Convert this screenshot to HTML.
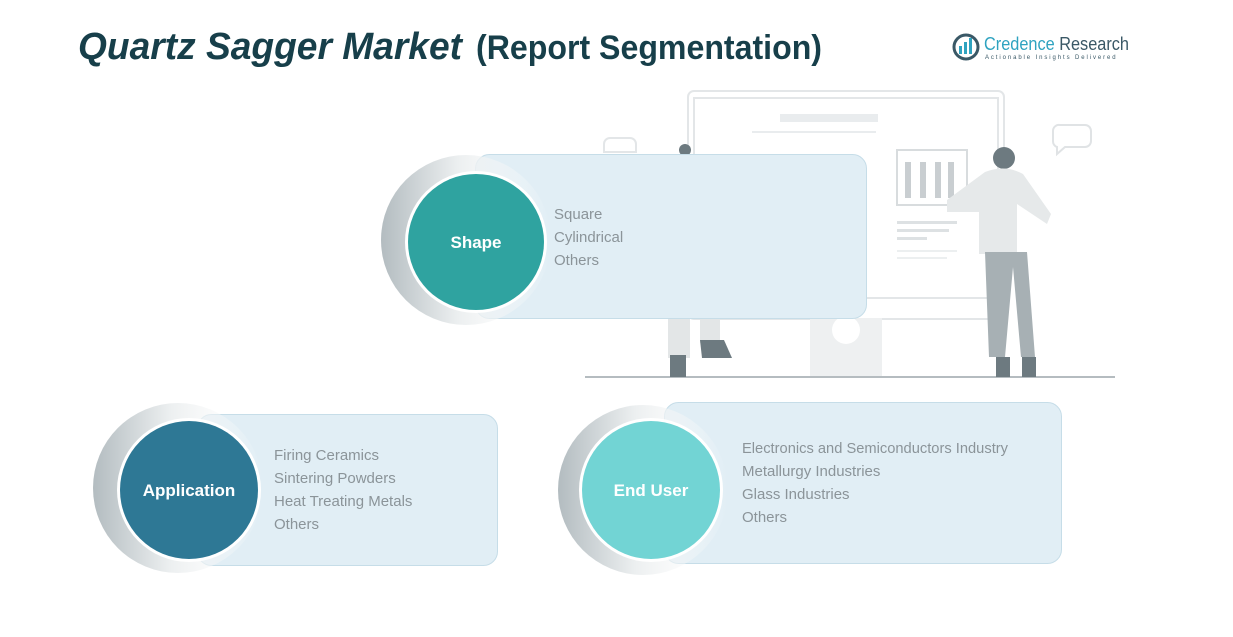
<!DOCTYPE html>
<html><head><meta charset="utf-8"><style>
html,body{margin:0;padding:0;background:#fff;}
svg{display:block;font-family:"Liberation Sans",sans-serif;}
</style></head><body>
<svg width="1233" height="637" viewBox="0 0 1233 637" xmlns="http://www.w3.org/2000/svg">
<defs>
<linearGradient id="ring" x1="0" y1="0" x2="1" y2="0">
<stop offset="0" stop-color="#b3bcc0"/><stop offset="0.45" stop-color="#eceff0"/><stop offset="1" stop-color="#ffffff" stop-opacity="0"/>
</linearGradient>
</defs>
<rect width="1233" height="637" fill="#fff"/>
<text x="78" y="59" font-size="38" font-weight="bold" font-style="italic" fill="#173f4a" textLength="384" lengthAdjust="spacingAndGlyphs">Quartz Sagger Market</text>
<text x="476" y="59" font-size="34" font-weight="bold" fill="#173f4a" textLength="346" lengthAdjust="spacingAndGlyphs">(Report Segmentation)</text>
<circle cx="966" cy="47" r="12" fill="none" stroke="#3a5866" stroke-width="3"/>
<rect x="959" y="46" width="3" height="8" fill="#2fa3c0"/><rect x="964" y="42" width="3" height="12" fill="#2fa3c0"/><rect x="969" y="38" width="3" height="16" fill="#2fa3c0"/>
<text x="984" y="50" font-size="18" fill="#2fa3c0" textLength="145" lengthAdjust="spacingAndGlyphs">Credence <tspan fill="#3a5866">Research</tspan></text>
<text x="985" y="59" font-size="6" fill="#3a5866" letter-spacing="1.9">Actionable Insights Delivered</text>
<g fill="none" stroke="#e3e6e8" stroke-width="2">
<rect x="688" y="91" width="316" height="228" rx="6"/>
<rect x="694" y="98" width="304" height="200"/>
<rect x="897" y="150" width="70" height="55" stroke="#d8dcde"/>
<path d="M1060 125 h25 a6 6 0 0 1 6 6 v10 a6 6 0 0 1 -6 6 h-20 l-8 7 v-7 a6 6 0 0 1 -4 -6 v-10 a6 6 0 0 1 7 -6z" stroke="#e0e3e5"/>
<path d="M610 138 h20 a6 6 0 0 1 6 6 v8 h-32 v-8 a6 6 0 0 1 6 -6z"/>
</g>
<rect x="780" y="114" width="98" height="8" fill="#e9ecee"/>
<rect x="752" y="131" width="124" height="2" fill="#e9ecee"/>
<rect x="905" y="162" width="6" height="36" fill="#c9ced1"/><rect x="920" y="162" width="6" height="36" fill="#c9ced1"/><rect x="935" y="162" width="6" height="36" fill="#c9ced1"/><rect x="948" y="162" width="6" height="36" fill="#c9ced1"/>
<rect x="897" y="221" width="60" height="3" fill="#dde1e3"/><rect x="897" y="229" width="52" height="3" fill="#dde1e3"/><rect x="897" y="237" width="30" height="3" fill="#dde1e3"/>
<rect x="897" y="250" width="60" height="2" fill="#eceff0"/><rect x="897" y="257" width="50" height="2" fill="#eceff0"/>
<rect x="810" y="318" width="72" height="60" fill="#eef0f1"/>
<circle cx="846" cy="330" r="14" fill="#fff"/>
<rect x="585" y="376" width="530" height="2" fill="#b5bcc0"/>
<circle cx="1004" cy="158" r="11" fill="#6d7a80"/>
<path d="M985 172 q20 -8 38 2 l28 40 -4 10 -30 -20 0 50 -38 0 0 -42 -32 0 0 -12z" fill="#e6e9ea"/>
<path d="M985 252 h42 l8 105 h-14 l-8 -90 -8 90 h-16z" fill="#a7b0b4"/>
<rect x="996" y="357" width="14" height="20" fill="#6d7a80"/><rect x="1022" y="357" width="14" height="20" fill="#6d7a80"/>
<rect x="668" y="318" width="22" height="40" fill="#e3e6e7"/><rect x="700" y="318" width="20" height="25" fill="#e3e6e7"/>
<rect x="670" y="355" width="16" height="22" fill="#6d7a80"/><path d="M700 340 l24 0 8 18 -30 0z" fill="#6d7a80"/>
<circle cx="685" cy="150" r="6" fill="#6d7a80"/>

<rect x="475.5" y="154.5" width="391" height="164" rx="14" fill="#e1eef5" stroke="#c6dde8"/>
<circle cx="466" cy="240" r="85" fill="url(#ring)"/>
<circle cx="476" cy="242" r="71" fill="#fff"/>
<circle cx="476" cy="242" r="68" fill="#2fa3a0"/>
<text x="476" y="248" font-size="17" font-weight="bold" fill="#fff" text-anchor="middle">Shape</text>
<g font-size="15" fill="#8b9499">
<text x="554" y="219">Square</text><text x="554" y="242">Cylindrical</text><text x="554" y="265">Others</text>
</g>
<rect x="197.5" y="414.5" width="300" height="151" rx="14" fill="#e1eef5" stroke="#c6dde8"/>
<circle cx="178" cy="488" r="85" fill="url(#ring)"/>
<circle cx="189" cy="490" r="72" fill="#fff"/>
<circle cx="189" cy="490" r="69" fill="#2e7895"/>
<text x="189" y="496" font-size="17" font-weight="bold" fill="#fff" text-anchor="middle">Application</text>
<g font-size="15" fill="#8b9499">
<text x="274" y="460">Firing Ceramics</text><text x="274" y="483">Sintering Powders</text><text x="274" y="506">Heat Treating Metals</text><text x="274" y="529">Others</text>
</g>
<rect x="664.5" y="402.5" width="397" height="161" rx="14" fill="#e1eef5" stroke="#c6dde8"/>
<circle cx="643" cy="490" r="85" fill="url(#ring)"/>
<circle cx="651" cy="490" r="72" fill="#fff"/>
<circle cx="651" cy="490" r="69" fill="#72d4d4"/>
<text x="651" y="496" font-size="17" font-weight="bold" fill="#fff" text-anchor="middle">End User</text>
<g font-size="15" fill="#8b9499">
<text x="742" y="453" textLength="266" lengthAdjust="spacingAndGlyphs">Electronics and Semiconductors Industry</text><text x="742" y="476">Metallurgy Industries</text><text x="742" y="499">Glass Industries</text><text x="742" y="522">Others</text>
</g>
</svg>
</body></html>
